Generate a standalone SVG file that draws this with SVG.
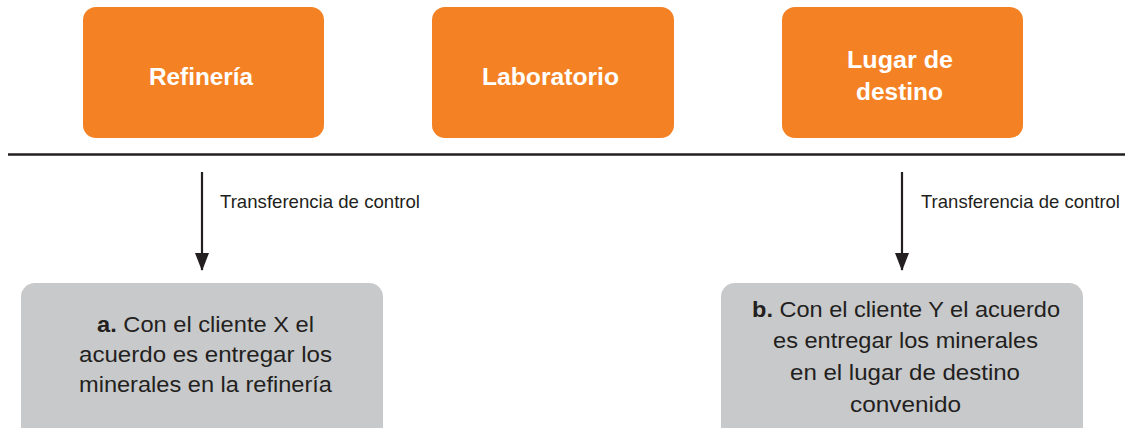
<svg xmlns="http://www.w3.org/2000/svg" width="1127" height="428" viewBox="0 0 1127 428">
  <defs>
    <marker id="arrowhead" viewBox="0 0 18 14" refX="17" refY="7" markerWidth="18" markerHeight="14" markerUnits="userSpaceOnUse" orient="auto">
      <path d="M0,0 L18,7 L0,14 Z" fill="#231f20"/>
    </marker>
    <style>
      .stage { fill: #f48224; }
      .stage-label { font-family: "Liberation Sans", Arial, sans-serif; font-size: 23px; font-weight: bold; fill: #ffffff; text-anchor: middle; }
      .note { fill: #c8c9cb; }
      .note-text { font-family: "Liberation Sans", Arial, sans-serif; font-size: 22px; fill: #231f20; text-anchor: middle; }
      .note-text .tag { font-weight: bold; }
      .edge { stroke: #231f20; stroke-width: 2.2; fill: none; }
      .edge-label { font-family: "Liberation Sans", Arial, sans-serif; font-size: 19px; fill: #231f20; }
      .timeline { stroke: #231f20; stroke-width: 2.6; }
    </style>
  </defs>

  <!-- Stages along the route -->
  <g id="node-refineria">
    <rect class="stage" x="83" y="7" width="241" height="131" rx="13"/>
    <text class="stage-label" x="201" y="85" textLength="104" lengthAdjust="spacingAndGlyphs">Refinería</text>
  </g>
  <g id="node-laboratorio">
    <rect class="stage" x="432" y="7" width="242" height="131" rx="13"/>
    <text class="stage-label" x="550.5" y="85" textLength="137" lengthAdjust="spacingAndGlyphs">Laboratorio</text>
  </g>
  <g id="node-lugar-destino">
    <rect class="stage" x="782" y="7" width="241" height="131" rx="13"/>
    <text class="stage-label" x="900" y="68" textLength="106" lengthAdjust="spacingAndGlyphs">Lugar de</text>
    <text class="stage-label" x="899.5" y="100" textLength="87" lengthAdjust="spacingAndGlyphs">destino</text>
  </g>

  <!-- Route baseline -->
  <line class="timeline" x1="8" y1="154.5" x2="1125" y2="154.5"/>

  <!-- Transfer-of-control connectors -->
  <g id="connectors">
    <line class="edge" x1="202" y1="172" x2="202" y2="270" marker-end="url(#arrowhead)"/>
    <text class="edge-label" x="220" y="208" textLength="200" lengthAdjust="spacingAndGlyphs">Transferencia de control</text>
    <line class="edge" x1="902" y1="172" x2="902" y2="270" marker-end="url(#arrowhead)"/>
    <text class="edge-label" x="921" y="208" textLength="199" lengthAdjust="spacingAndGlyphs">Transferencia de control</text>
  </g>

  <!-- Delivery agreements -->
  <g id="node-cliente-x">
    <rect class="note" x="21" y="283" width="362" height="160" rx="14"/>
    <text class="note-text" x="205.5" y="332" textLength="217" lengthAdjust="spacingAndGlyphs"><tspan class="tag">a.</tspan> Con el cliente X el</text>
    <text class="note-text" x="205.5" y="362" textLength="253" lengthAdjust="spacingAndGlyphs">acuerdo es entregar los</text>
    <text class="note-text" x="205.5" y="392" textLength="253" lengthAdjust="spacingAndGlyphs">minerales en la refinería</text>
  </g>
  <g id="node-cliente-y">
    <rect class="note" x="721" y="283" width="362" height="160" rx="14"/>
    <text class="note-text" x="906" y="317" textLength="308" lengthAdjust="spacingAndGlyphs"><tspan class="tag">b.</tspan> Con el cliente Y el acuerdo</text>
    <text class="note-text" x="905.5" y="348" textLength="265" lengthAdjust="spacingAndGlyphs">es entregar los minerales</text>
    <text class="note-text" x="905" y="380" textLength="230" lengthAdjust="spacingAndGlyphs">en el lugar de destino</text>
    <text class="note-text" x="905.5" y="412" textLength="111" lengthAdjust="spacingAndGlyphs">convenido</text>
  </g>
</svg>
